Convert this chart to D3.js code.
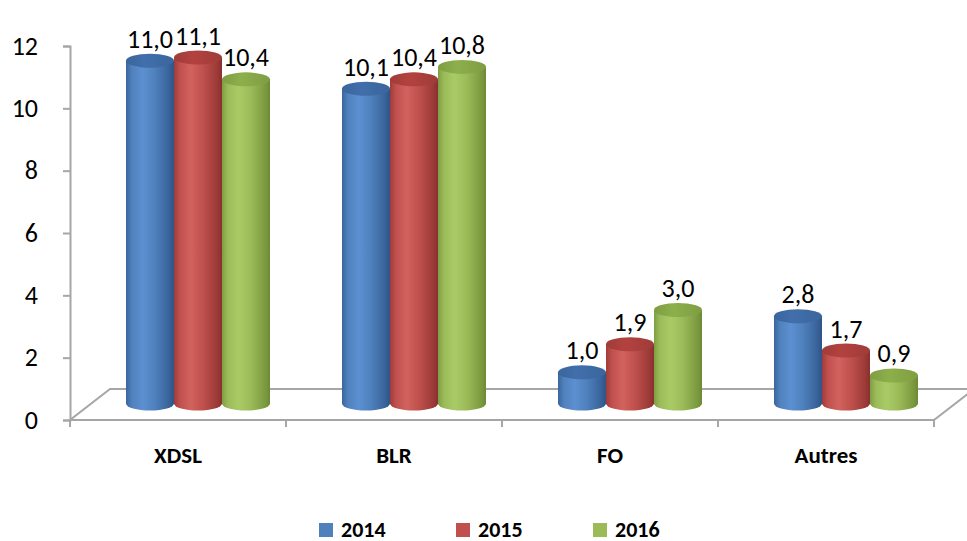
<!DOCTYPE html>
<html><head><meta charset="utf-8">
<script src="https://cdn.jsdelivr.net/npm/d3@7"></script>
<style>
html,body{margin:0;padding:0;background:#fff;}
svg{display:block;font-family:Carlito,Calibri,Lato,sans-serif;}
</style></head>
<body>
<svg id="chart" width="967" height="541"></svg>
<script>
const categories = ["XDSL", "BLR", "FO", "Autres"];
const seriesNames = ["2014", "2015", "2016"];
const values2014 = [11.0, 10.1, 1.0, 2.8];
const values2015 = [11.1, 10.4, 1.9, 1.7];
const values2016 = [10.4, 10.8, 3.0, 0.9];
const yTicks = [0, 2, 4, 6, 8, 10, 12];

const seriesValues = [values2014, values2015, values2016];
const colors = {
  "2014": {base:"#4f81bd", dark:"#3a659c", light:"#5d90d1", edge:"#2e5488", top:"#426fab"},
  "2015": {base:"#c0504d", dark:"#9e3c39", light:"#d2625e", edge:"#8a302d", top:"#b3423f"},
  "2016": {base:"#9bbb59", dark:"#7e9d42", light:"#a9cb66", edge:"#6c8a35", top:"#8daf4b"}
};

const svg = d3.select("#chart");
const defs = svg.append("defs");
seriesNames.forEach(s => {
  const c = colors[s];
  const g = defs.append("linearGradient").attr("id", "g" + s)
    .attr("x1", "0%").attr("x2", "100%").attr("y1", "0%").attr("y2", "0%");
  [[0, c.dark],[0.12, c.base],[0.35, c.light],[0.6, c.base],[0.88, c.dark],[1, c.edge]]
    .forEach(([o, col]) => g.append("stop").attr("offset", o).attr("stop-color", col));
  const t = defs.append("linearGradient").attr("id", "t" + s)
    .attr("x1", "0%").attr("x2", "100%").attr("y1", "0%").attr("y2", "0%");
  [[0, c.dark],[0.4, c.top],[1, c.dark]]
    .forEach(([o, col]) => t.append("stop").attr("offset", o).attr("stop-color", col));
});

const x0 = 70, x1 = 934;
const depthX = 40, depthY = -31;
const x = d3.scaleBand().domain(categories).range([x0, x1]).padding(0);
const xs = d3.scaleBand().domain(seriesNames).range([-72, 72]).padding(0);
const y = d3.scaleLinear().domain([0, 12]).range([420, 46]);
const gray = "#a6a6a6";

// floor
svg.append("path")
  .attr("d", `M${x0},${y(0)} L${x1},${y(0)} L${x1+depthX},${y(0)+depthY} L${x0+depthX},${y(0)+depthY} Z`)
  .attr("fill", "none").attr("stroke", gray).attr("stroke-width", 2);

// category ticks on the front edge
svg.append("g").selectAll("line")
  .data(categories.map(c => x(c)).concat([x1]))
  .join("line")
  .attr("x1", d => d).attr("x2", d => d)
  .attr("y1", y(0)).attr("y2", y(0) + 7)
  .attr("stroke", gray).attr("stroke-width", 2);

// y axis
const yAxis = svg.append("g").attr("transform", `translate(${x0},0)`)
  .call(d3.axisLeft(y).tickValues(yTicks).tickSize(7).tickPadding(25).tickFormat(d3.format("d")));
yAxis.select(".domain").attr("stroke", gray).attr("stroke-width", 2);
yAxis.selectAll(".tick line").attr("stroke", gray).attr("stroke-width", 2);
yAxis.selectAll(".tick text").attr("font-size", 26).attr("fill", "#000")
  .attr("font-family", "Carlito,Calibri,Lato,sans-serif");

// bars
const midX = depthX / 2, midY = depthY / 2 - 1;
const rx = xs.bandwidth() / 2, ry = 7;
const fmt = v => d3.format(".1f")(v).replace(".", ",");

categories.forEach((cat, ci) => {
  seriesNames.forEach((s, si) => {
    const v = seriesValues[si][ci];
    const cx = x(cat) + x.bandwidth() / 2 + midX + xs(s) + rx;
    const yb = y(0) + midY, yt = y(v) + midY;
    const g = svg.append("g");
    g.append("path")
      .attr("d", `M${cx-rx},${yt} L${cx-rx},${yb} A${rx},${ry} 0 0 0 ${cx+rx},${yb} L${cx+rx},${yt} Z`)
      .attr("fill", `url(#g${s})`);
    g.append("ellipse").attr("cx", cx).attr("cy", yt).attr("rx", rx).attr("ry", ry)
      .attr("fill", `url(#t${s})`);
    g.append("text").attr("x", cx).attr("y", yt - 22)
      .attr("text-anchor", "middle").attr("dominant-baseline", "central")
      .attr("font-size", 26).attr("fill", "#000").text(fmt(v));
  });
});

// category labels
svg.append("g").selectAll("text").data(categories).join("text")
  .attr("x", d => x(d) + x.bandwidth() / 2)
  .attr("y", 455)
  .attr("text-anchor", "middle").attr("dominant-baseline", "central")
  .attr("font-size", 23).attr("font-weight", "bold").attr("fill", "#000")
  .text(d => d);

// legend
const legendX = [319, 456, 593];
const leg = svg.append("g");
seriesNames.forEach((s, i) => {
  leg.append("rect").attr("x", legendX[i]).attr("y", 523).attr("width", 14).attr("height", 14)
    .attr("fill", colors[s].base);
  leg.append("text").attr("x", legendX[i] + 22).attr("y", 529)
    .attr("dominant-baseline", "central")
    .attr("font-size", 22).attr("font-weight", "bold").attr("fill", "#000").text(s);
});
</script>
</body></html>
